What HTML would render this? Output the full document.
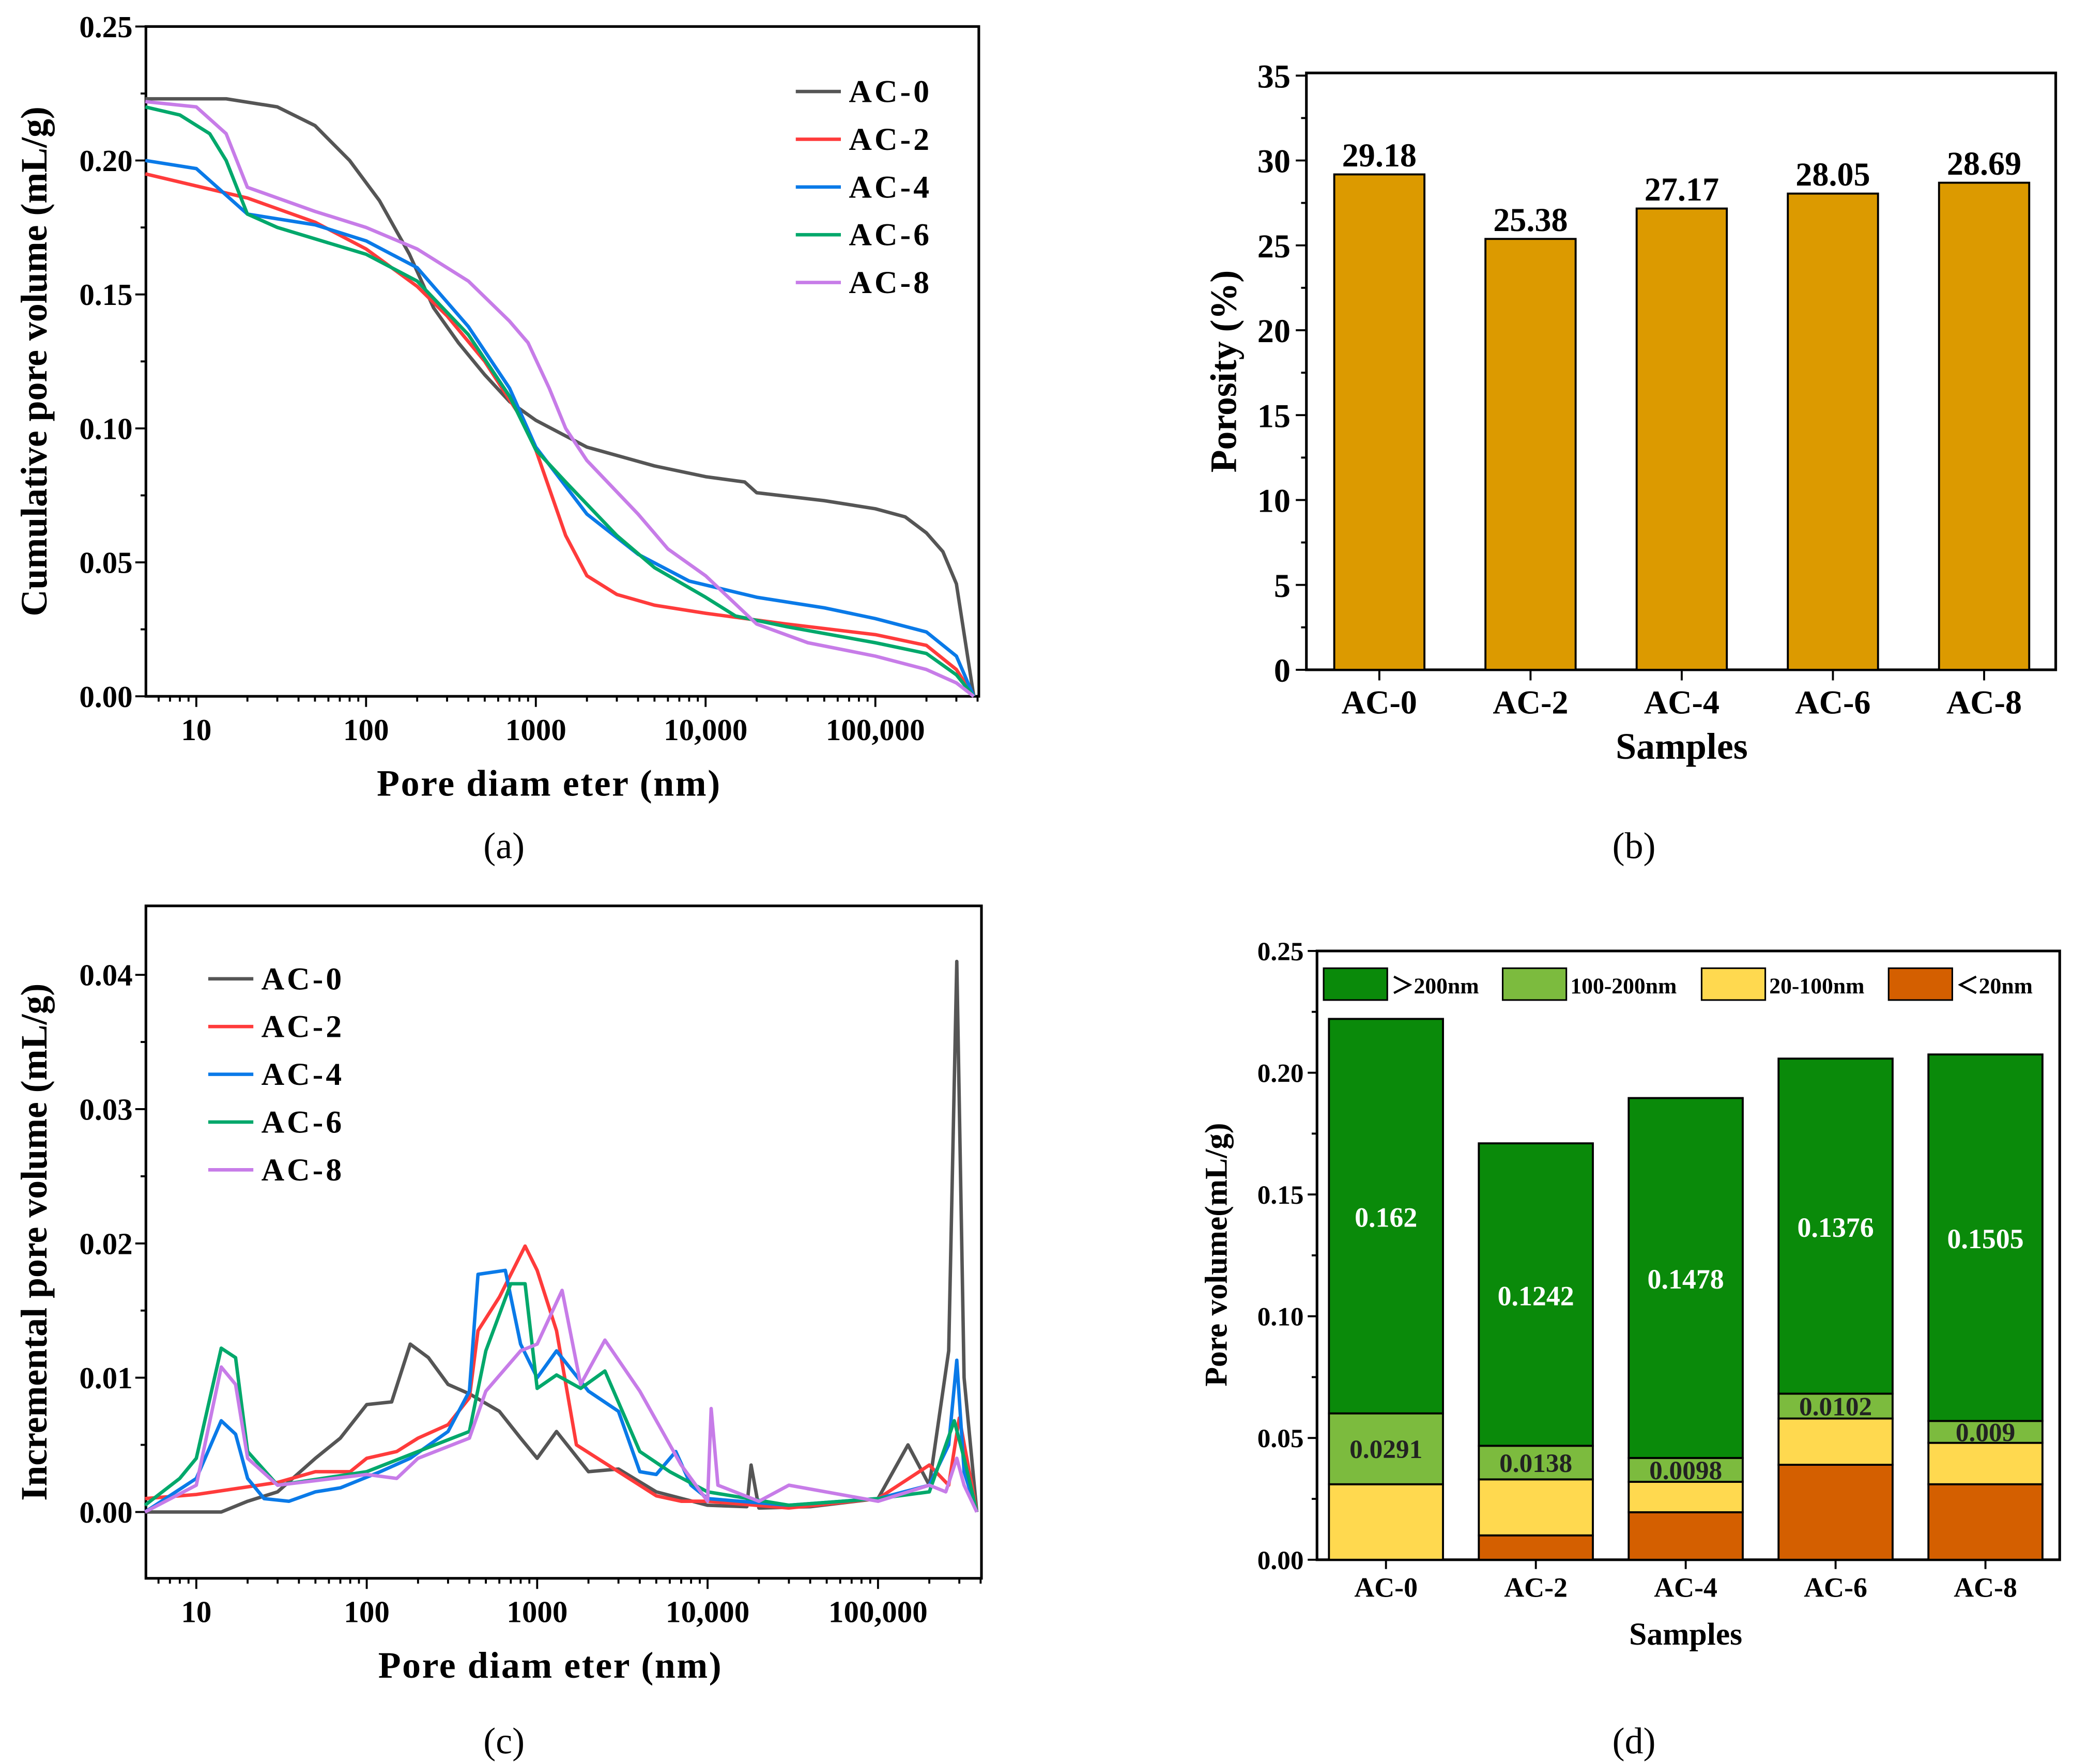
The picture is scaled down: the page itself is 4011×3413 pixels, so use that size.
<!DOCTYPE html>
<html><head><meta charset="utf-8"><style>
html,body{margin:0;padding:0;background:#fff}
svg{display:block}
text{font-family:"Liberation Serif",serif}
</style></head><body>
<svg id="svg" xmlns="http://www.w3.org/2000/svg" width="4011" height="3413" viewBox="0 0 1563 1330">
<g id="pa"></g>
<g id="pb"></g>
<g id="pc"></g>
<g id="pd"></g>
<text x="380" y="647" font-size="28" text-anchor="middle">(a)</text>
<text x="1232" y="647" font-size="28" text-anchor="middle">(b)</text>
<text x="380" y="1322" font-size="28" text-anchor="middle">(c)</text>
<text x="1232" y="1322" font-size="28" text-anchor="middle">(d)</text>
</svg>
<script>
// ---------- data ----------
const seriesNames = ["AC-0","AC-2","AC-4","AC-6","AC-8"];
const seriesColors = ["#555555","#ff3b3b","#0a7ae8","#00a86b","#c77ce8"];
const cumAC0 = [[5,0.223],[15,0.223],[30,0.22],[50,0.213],[80,0.2],[120,0.185],[180,0.165],[250,0.145],[350,0.132],[500,0.12],[700,0.11],[1000,0.103],[2000,0.093],[5000,0.086],[10000,0.082],[17000,0.08],[20000,0.076],[50000,0.073],[100000,0.07],[150000,0.067],[200000,0.061],[250000,0.054],[300000,0.042],[380000,0]];
const cumAC2 = [[5,0.195],[20,0.186],[50,0.177],[100,0.167],[200,0.153],[300,0.142],[500,0.125],[800,0.105],[1000,0.092],[1500,0.06],[2000,0.045],[3000,0.038],[5000,0.034],[10000,0.031],[30000,0.027],[100000,0.023],[200000,0.019],[300000,0.01],[380000,0]];
const cumAC4 = [[5,0.2],[10,0.197],[20,0.18],[50,0.176],[100,0.17],[200,0.16],[400,0.138],[700,0.115],[1000,0.093],[2000,0.068],[4000,0.053],[8000,0.043],[20000,0.037],[50000,0.033],[100000,0.029],[200000,0.024],[300000,0.015],[380000,0]];
const cumAC6 = [[5,0.22],[8,0.217],[12,0.21],[15,0.2],[20,0.18],[30,0.175],[100,0.165],[200,0.155],[400,0.135],[700,0.112],[1000,0.092],[1500,0.08],[3000,0.06],[5000,0.048],[10000,0.037],[15000,0.03],[30000,0.026],[100000,0.02],[200000,0.016],[300000,0.008],[380000,0]];
const cumAC8 = [[5,0.222],[10,0.22],[15,0.21],[20,0.19],[50,0.181],[100,0.175],[200,0.167],[400,0.155],[700,0.14],[900,0.132],[1200,0.115],[1500,0.1],[2000,0.088],[4000,0.068],[6000,0.055],[10000,0.045],[20000,0.027],[40000,0.02],[100000,0.015],[200000,0.01],[300000,0.005],[380000,0]];
const incAC0 = [[5,0],[10,0],[14,0],[20,0.0008],[30,0.0015],[50,0.004],[70,0.0055],[100,0.008],[140,0.0082],[180,0.0125],[230,0.0115],[300,0.0095],[400,0.0088],[600,0.0075],[800,0.0055],[1000,0.004],[1300,0.006],[2000,0.003],[3000,0.0032],[5000,0.0015],[10000,0.0005],[17000,0.0004],[18000,0.0035],[20000,0.0003],[40000,0.0004],[100000,0.001],[150000,0.005],[200000,0.002],[260000,0.012],[290000,0.041],[320000,0.01],[380000,0]];
const incAC2 = [[5,0.001],[10,0.0013],[30,0.0022],[50,0.003],[80,0.003],[100,0.004],[150,0.0045],[200,0.0055],[300,0.0065],[400,0.0085],[450,0.0135],[600,0.016],[850,0.0198],[1000,0.018],[1300,0.0135],[1700,0.005],[3000,0.003],[5000,0.0012],[7000,0.0008],[10000,0.0008],[30000,0.0003],[100000,0.001],[200000,0.0035],[260000,0.002],[300000,0.007],[380000,0]];
const incAC4 = [[5,0],[10,0.0025],[14,0.0068],[17,0.0058],[20,0.0025],[25,0.001],[35,0.0008],[50,0.0015],[70,0.0018],[120,0.003],[180,0.004],[300,0.006],[400,0.009],[450,0.0177],[650,0.018],[800,0.0125],[1000,0.01],[1300,0.012],[2000,0.009],[3000,0.0075],[4000,0.003],[5000,0.0028],[6500,0.0045],[8000,0.002],[10000,0.001],[30000,0.0005],[100000,0.001],[200000,0.002],[260000,0.005],[290000,0.0113],[320000,0.003],[380000,0]];
const incAC6 = [[5,0.0005],[8,0.0025],[10,0.004],[14,0.0122],[17,0.0115],[20,0.0045],[30,0.002],[100,0.003],[200,0.0045],[400,0.006],[500,0.012],[700,0.017],[850,0.017],[1000,0.0092],[1300,0.0102],[1800,0.0092],[2500,0.0105],[4000,0.0045],[6000,0.003],[10000,0.0015],[30000,0.0005],[100000,0.001],[200000,0.0015],[280000,0.0068],[320000,0.004],[380000,0]];
const incAC8 = [[5,0],[10,0.002],[14,0.0108],[17,0.0095],[20,0.004],[30,0.002],[100,0.0028],[150,0.0025],[200,0.004],[400,0.0055],[500,0.009],[800,0.012],[1000,0.0125],[1400,0.0165],[1800,0.0095],[2500,0.0128],[4000,0.009],[7000,0.0035],[10000,0.0008],[10500,0.0077],[11500,0.002],[20000,0.0008],[30000,0.002],[100000,0.0008],[200000,0.002],[250000,0.0015],[290000,0.004],[320000,0.002],[380000,0]];
const porosity = [29.18,25.38,27.17,28.05,28.69];
const stackLt20 = [0,0.010,0.0195,0.039,0.031];
const stack20to100 = [0.031,0.023,0.0125,0.019,0.017];
const stack100to200 = [0.0291,0.0138,0.0098,0.0102,0.009];
const stackGt200 = [0.162,0.1242,0.1478,0.1376,0.1505];
const stackNames = ["<20nm","20-100nm","100-200nm",">200nm"];
const stackColors = ["#d45f00","#ffd94f","#7cbb3e","#0a8a0a"];
const xTickVals = [10,100,1000,10000,100000];
const xTickLabels = ["10","100","1000","10,000","100,000"];
const aYTicks = [0,0.05,0.10,0.15,0.20,0.25];
const cYTicks = [0,0.01,0.02,0.03,0.04];
const bYTicks = [0,5,10,15,20,25,30,35];
const dYTicks = [0,0.05,0.10,0.15,0.20,0.25];

// ---------- helpers ----------
const NS="http://www.w3.org/2000/svg";
function mk(parent,tag,attrs,txt){const e=document.createElementNS(NS,tag);for(const k in attrs)e.setAttribute(k,attrs[k]);if(txt!==undefined)e.textContent=txt;parent.appendChild(e);return e;}
function logX(x0,dec){return d=>x0+dec*(Math.log10(d)-1);}
function linY(y0,y1,v1){return v=>y0-(y0-y1)*v/v1;}

function lineChart(g,box,xs,ys,yTicks,yFmt,data,legend,xTitle,yTitle,yTitleX){
  const frame=mk(g,'rect',{x:box.l,y:box.t,width:box.r-box.l,height:box.b-box.t,fill:'none',stroke:'#000','stroke-width':2});
  
  
  // x ticks
  for(let e=0;e<=5;e++){for(let m=1;m<10;m++){const v=m*Math.pow(10,e);const x=xs(v);if(x<box.l||x>box.r)continue;
    const t=mk(g,'line',{x1:x,x2:x,y1:box.b,y2:box.b+(m===1?8:4),stroke:'#000','stroke-width':1.5});
    
    }}
  xTickVals.forEach((v,i)=>{const t=mk(g,'text',{x:xs(v),y:box.b+33,'font-size':23,'font-weight':'bold','text-anchor':'middle'},xTickLabels[i]);
    
    });
  yTicks.forEach((v,i)=>{const y=ys(v);mk(g,'line',{x1:box.l-8,x2:box.l,y1:y,y2:y,stroke:'#000','stroke-width':1.5});
    if(i<yTicks.length-1){const ym=ys((v+yTicks[i+1])/2);mk(g,'line',{x1:box.l-4,x2:box.l,y1:ym,y2:ym,stroke:'#000','stroke-width':1.5});}
    const t=mk(g,'text',{x:box.l-10,y:y+8,'font-size':23,'font-weight':'bold','text-anchor':'end'},yFmt(v));
    
    });
  data.forEach((s,i)=>{const p=mk(g,'polyline',{points:s.map(q=>xs(q[0]).toFixed(1)+','+ys(q[1]).toFixed(1)).join(' '),fill:'none',stroke:seriesColors[i],'stroke-width':2.6,'stroke-linejoin':'round'});
    
    });
  seriesNames.forEach((n,i)=>{const y=legend.y+i*36;mk(g,'line',{x1:legend.x,x2:legend.x+34,y1:y,y2:y,stroke:seriesColors[i],'stroke-width':2.6});
    const t=mk(g,'text',{x:legend.x+40,y:y+8,'font-size':24,'font-weight':'bold','letter-spacing':2},n);
    
    });
  const xt=mk(g,'text',{x:(box.l+box.r)/2-10,y:box.b+75,'font-size':28,'font-weight':'bold','text-anchor':'middle','letter-spacing':1},xTitle);
  
  
  const yt=mk(g,'text',{x:yTitleX,y:(box.t+box.b)/2,'font-size':28,'font-weight':'bold','text-anchor':'middle',transform:`rotate(-90 ${yTitleX} ${(box.t+box.b)/2})`},yTitle);
  
  
}

// ---------- panel a ----------
{const box={l:110,r:738,t:20,b:525};
 lineChart(document.getElementById('pa'),box,logX(148,128),linY(525,20,0.25),aYTicks,v=>v.toFixed(2),[cumAC0,cumAC2,cumAC4,cumAC6,cumAC8],{x:600,y:69},'Pore diam eter (nm)','Cumulative pore volume (mL/g)',35);}
// ---------- panel c ----------
{const box={l:110,r:740,t:683,b:1190};
 lineChart(document.getElementById('pc'),box,logX(148,128.5),linY(1140,735,0.04),cYTicks,v=>v.toFixed(2),[incAC0,incAC2,incAC4,incAC6,incAC8],{x:157,y:738},'Pore diam eter (nm)','Incremental pore volume (mL/g)',35);}

// ---------- panel b ----------
{const g=document.getElementById('pb');const box={l:985,r:1550,t:55,b:505};
 const ys=linY(505,57,35);const centers=[1040,1154,1268,1382,1496];const bw=68;
 mk(g,'rect',{x:box.l,y:box.t,width:box.r-box.l,height:box.b-box.t,fill:'none',stroke:'#000','stroke-width':2});
 bYTicks.forEach((v,i)=>{const y=ys(v);mk(g,'line',{x1:box.l-8,x2:box.l,y1:y,y2:y,stroke:'#000','stroke-width':1.5});
   if(i<bYTicks.length-1){const ym=ys(v+2.5);mk(g,'line',{x1:box.l-4,x2:box.l,y1:ym,y2:ym,stroke:'#000','stroke-width':1.5});}
   const t=mk(g,'text',{x:box.l-12,y:y+9,'font-size':25,'font-weight':'bold','text-anchor':'end'},String(v));
   
   });
 porosity.forEach((v,i)=>{const r=mk(g,'rect',{x:centers[i]-bw/2,y:ys(v),width:bw,height:ys(0)-ys(v),fill:'#dc9a00',stroke:'#000','stroke-width':1.5});
   
   
   const t=mk(g,'text',{x:centers[i],y:ys(v)-6,'font-size':25,'font-weight':'bold','text-anchor':'middle'},v.toFixed(2));
   
   
   mk(g,'line',{x1:centers[i],x2:centers[i],y1:box.b,y2:box.b+8,stroke:'#000','stroke-width':1.5});
   const l=mk(g,'text',{x:centers[i],y:box.b+33,'font-size':25,'font-weight':'bold','text-anchor':'middle'},seriesNames[i]);
   
   });
 const xt=mk(g,'text',{x:1268,y:572,'font-size':28,'font-weight':'bold','text-anchor':'middle'},'Samples');
 
 
 const yt=mk(g,'text',{x:932,y:280,'font-size':28,'font-weight':'bold','text-anchor':'middle',transform:'rotate(-90 932 280)'},'Porosity (%)');
 
 }

// ---------- panel d ----------
{const g=document.getElementById('pd');const box={l:993,r:1553,t:717,b:1176};
 const ys=linY(1176,717,0.25);const centers=[1045,1158,1271,1384,1497];const bw=86;
 mk(g,'rect',{x:box.l,y:box.t,width:box.r-box.l,height:box.b-box.t,fill:'none',stroke:'#000','stroke-width':2});
 dYTicks.forEach((v,i)=>{const y=ys(v);mk(g,'line',{x1:box.l-7,x2:box.l,y1:y,y2:y,stroke:'#000','stroke-width':1.5});
   if(i<dYTicks.length-1){const ym=ys(v+0.025);mk(g,'line',{x1:box.l-4,x2:box.l,y1:ym,y2:ym,stroke:'#000','stroke-width':1.5});}
   const t=mk(g,'text',{x:box.l-10,y:y+7,'font-size':20,'font-weight':'bold','text-anchor':'end'},v.toFixed(2));
   
   });
 const layers=[stackLt20,stack20to100,stack100to200,stackGt200];
 centers.forEach((c,i)=>{let base=0;layers.forEach((arr,k)=>{const v=arr[i];if(v>0){
     const r=mk(g,'rect',{x:c-bw/2,y:ys(base+v),width:bw,height:ys(base)-ys(base+v),fill:stackColors[k],stroke:'#000','stroke-width':1.5});
     
     }
     if(k===2){const t=mk(g,'text',{x:c,y:(ys(base)+ys(base+v))/2+7,'font-size':20,'font-weight':'bold','text-anchor':'middle',fill:'#222'},String(v));
       
       }
     if(k===3){const t=mk(g,'text',{x:c,y:(ys(base)+ys(base+v))/2+8,'font-size':21,'font-weight':'bold','text-anchor':'middle',fill:'#fff'},String(v));
       
       }
     base+=v;});
   mk(g,'line',{x1:c,x2:c,y1:box.b,y2:box.b+7,stroke:'#000','stroke-width':1.5});
   const l=mk(g,'text',{x:c,y:box.b+28,'font-size':21,'font-weight':'bold','text-anchor':'middle'},seriesNames[i]);
   
   });
 const legX=[998,1133,1283,1424],legOrder=[3,2,1,0],legLabels=["\uFF1E200nm","100-200nm","20-100nm","\uFF1C20nm"];
 legOrder.forEach((k,j)=>{mk(g,'rect',{x:legX[j],y:730,width:48,height:24,fill:stackColors[k],stroke:'#000','stroke-width':1.2});
   const t=mk(g,'text',{x:legX[j]+51,y:749,'font-size':17,'font-weight':'bold'},legLabels[j]);
   
   });
 const xt=mk(g,'text',{x:1271,y:1240,'font-size':24,'font-weight':'bold','text-anchor':'middle'},'Samples');
 
 
 const yt=mk(g,'text',{x:925,y:946,'font-size':24,'font-weight':'bold','text-anchor':'middle',transform:'rotate(-90 925 946)'},'Pore volume(mL/g)');
 
 }
</script>
</body></html>
